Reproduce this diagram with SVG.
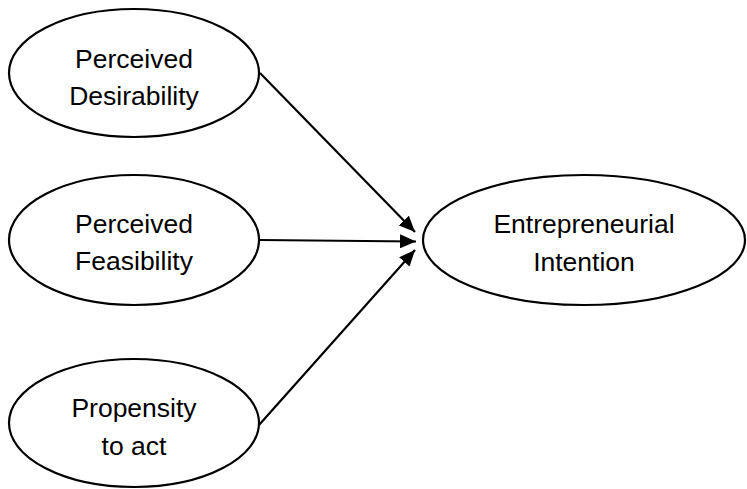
<svg xmlns="http://www.w3.org/2000/svg" width="747" height="489" viewBox="0 0 747 489">
<style>
.node ellipse { fill: #fff; stroke: #000; stroke-width: 2.2; }
.node text { font-family: "Liberation Sans", Arial, sans-serif; font-size: 26.5px; fill: #000; text-anchor: middle; }
.conn line { stroke: #000; stroke-width: 2.2; fill: none; }
</style>
<defs>
<marker id="arrow" markerUnits="userSpaceOnUse" markerWidth="16" markerHeight="14" refX="16" refY="7" orient="auto">
<path d="M0,0 L16,7 L0,14 z" fill="#000"/>
</marker>
</defs>
<rect width="747" height="489" fill="#fff"/>
<g id="connectors" class="conn">
<line x1="260" y1="73" x2="415" y2="232" marker-end="url(#arrow)"/>
<line x1="260" y1="240" x2="416" y2="241.5" marker-end="url(#arrow)"/>
<line x1="259" y1="425" x2="415" y2="250" marker-end="url(#arrow)"/>
</g>
<g id="desirability" class="node">
<ellipse cx="134" cy="73" rx="125" ry="64"/>
<text x="134" y="68">Perceived</text>
<text x="134" y="105">Desirability</text>
</g>
<g id="feasibility" class="node">
<ellipse cx="134" cy="240" rx="125" ry="65"/>
<text x="134" y="233">Perceived</text>
<text x="134" y="270">Feasibility</text>
</g>
<g id="propensity" class="node">
<ellipse cx="134" cy="423" rx="125" ry="64"/>
<text x="134" y="417">Propensity</text>
<text x="134" y="455">to act</text>
</g>
<g id="intention" class="node">
<ellipse cx="584" cy="240" rx="161" ry="65"/>
<text x="584" y="233">Entrepreneurial</text>
<text x="584" y="271">Intention</text>
</g>
</svg>
